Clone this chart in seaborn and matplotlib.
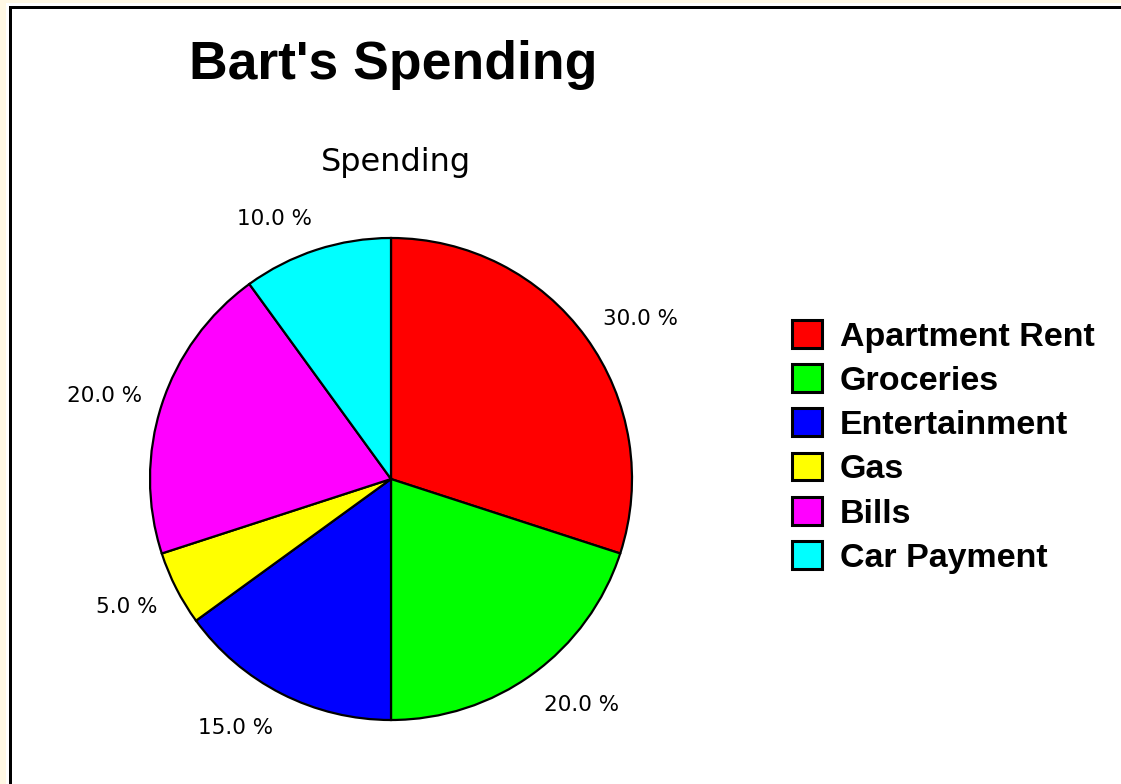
import matplotlib
matplotlib.use("Agg")
import matplotlib.pyplot as plt
from matplotlib.patches import Rectangle
from matplotlib.font_manager import FontProperties
from matplotlib.transforms import offset_copy
import seaborn as sns

categories = ["Apartment Rent", "Groceries", "Entertainment", "Gas", "Bills", "Car Payment"]
values = [30.0, 20.0, 15.0, 5.0, 20.0, 10.0]
colors = ["#FF0000", "#00FF00", "#0000FF", "#FFFF00", "#FF00FF", "#00FFFF"]
title = "Bart's Spending"
subtitle = "Spending"

sns.set_theme(style="white")
plt.rcParams["font.family"] = ["DejaVu Sans"]
plt.rcParams["text.color"] = "black"
palette = sns.color_palette(colors)

W, H = 1121, 784
fig = plt.figure(figsize=(W / 100, H / 100), dpi=100, facecolor="#FFF8E4")

# background / frame layer in pixel coordinates
bg = fig.add_axes([0, 0, 1, 1])
bg.set_xlim(0, W)
bg.set_ylim(H, 0)
bg.axis("off")
bg.add_patch(Rectangle((6, 3), W, H, facecolor="white", edgecolor="none"))
bg.add_patch(Rectangle((9, 6), W, 3, facecolor="black", edgecolor="none"))
bg.add_patch(Rectangle((9, 6), 3, H, facecolor="black", edgecolor="none"))

# pie axes: centre (391, 479) px, radius 241 px
R = 241
cx, cy = 391, H - 479
lim = 1.3
size = 2 * lim * R
ax = fig.add_axes([(cx - size / 2) / W, (cy - size / 2) / H, size / W, size / H])
pdist = 1.1
wedges, texts, autotexts = ax.pie(
    values,
    colors=palette,
    startangle=90,
    counterclock=False,
    autopct=lambda p: f"{p:.1f} %",
    pctdistance=pdist,
    wedgeprops=dict(edgecolor="black", linewidth=1.6),
    textprops=dict(fontsize=15.5, color="black", family="DejaVu Sans"),
)
for t in autotexts:
    x, y = t.get_position()
    s = y / pdist
    right = x >= 0
    t.set_ha("left" if right else "right")
    t.set_va("center")
    t.set_transform(offset_copy(ax.transData, fig=fig,
                                x=(-2 if right else 2), y=8 * s - 2, units="points"))
    t.set_clip_on(False)
ax.set_xlim(-lim, lim)
ax.set_ylim(-lim, lim)
ax.set_aspect("equal")
ax.axis("off")

fig.text(393 / W, 1 - 79 / H, title, ha="center", va="baseline", color="black",
         fontsize=38.5, fontweight="bold", family="Liberation Sans")
fig.text(396 / W, 1 - 171 / H, subtitle, ha="center", va="baseline", color="black",
         fontsize=23, family="DejaVu Sans")

leg = ax.legend(
    wedges, categories,
    loc="upper left",
    bbox_to_anchor=(792 / W, 1 - 320 / H),
    bbox_transform=fig.transFigure,
    frameon=False,
    prop=FontProperties(family="Liberation Sans", weight="bold", size=24.5),
    labelcolor="black",
    handlelength=0.88, handleheight=0.88, handletextpad=0.53,
    labelspacing=0.34, borderpad=0, borderaxespad=0,
)
for h in leg.legend_handles:
    h.set_linewidth(2.2)

fig.savefig("out.png", dpi=100, facecolor=fig.get_facecolor())
